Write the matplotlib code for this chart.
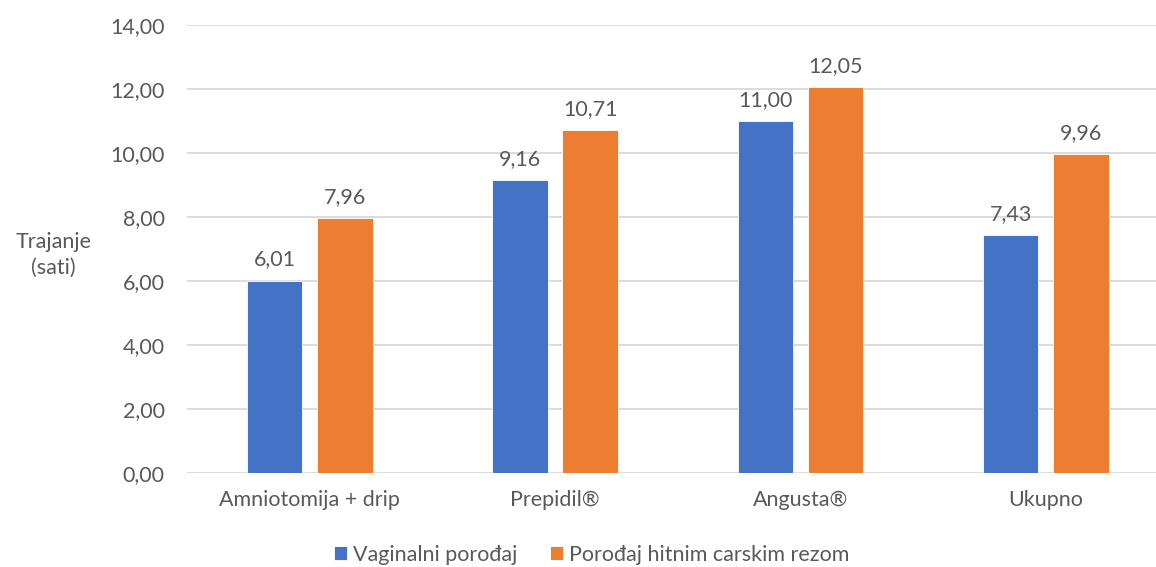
import numpy as np
import matplotlib.pyplot as plt

plt.rcParams['font.family'] = ['Lato', 'DejaVu Sans']

# Data
categories = ['Amniotomija + drip', 'Prepidil®', 'Angusta®', 'Ukupno']
vaginalni = [6.01, 9.16, 11.00, 7.43]
carski = [7.96, 10.71, 12.05, 9.96]
series_names = ['Vaginalni porođaj', 'Porođaj hitnim carskim rezom']

blue = '#4472C4'
orange = '#ED7D31'
txt = '#595959'
fs = 15.5

fig = plt.figure(figsize=(11.56, 5.67), dpi=100)
ax = fig.add_axes([0.1618, 0.1658, 0.849, 0.790])

x = np.arange(len(categories))
w = 0.226
off = 0.143
b1 = ax.bar(x - off, vaginalni, w, color=blue, edgecolor='white', linewidth=0.6,
            label=series_names[0], zorder=3)
b2 = ax.bar(x + off, carski, w, color=orange, edgecolor='white', linewidth=0.6,
            label=series_names[1], zorder=3)

for bars in (b1, b2):
    for r in bars:
        v = r.get_height()
        ax.annotate(f'{v:.2f}'.replace('.', ','), (r.get_x() + r.get_width() / 2, v),
                    xytext=(0, 8), textcoords='offset points', ha='center', va='bottom',
                    fontsize=fs, color=txt)

ax.set_xlim(-0.5, 3.5)
ax.set_ylim(0, 14)
ax.set_yticks(np.arange(0, 15, 2))
ax.set_yticklabels([f'{v:.2f}'.replace('.', ',') for v in np.arange(0, 15, 2)])
ax.set_xticks(x)
ax.set_xticklabels(categories)
ax.tick_params(axis='both', length=0, labelsize=fs, colors=txt)
ax.tick_params(axis='y', pad=16)
ax.tick_params(axis='x', pad=12)
ax.grid(axis='y', color='#d9d9d9', linewidth=1.3, zorder=0)
for s in ax.spines.values():
    s.set_visible(False)

fig.text(0.046, 0.55, 'Trajanje\n(sati)', ha='center', va='center', fontsize=fs,
         color=txt, linespacing=1.4)

leg = fig.legend(loc='center', bbox_to_anchor=(0.512, 0.022), ncol=2, frameon=False,
                 fontsize=fs, handlelength=0.6, handleheight=0.6, handletextpad=0.3,
                 columnspacing=1.5, borderpad=0)
for t in leg.get_texts():
    t.set_color(txt)

fig.savefig('out.png', dpi=100)
